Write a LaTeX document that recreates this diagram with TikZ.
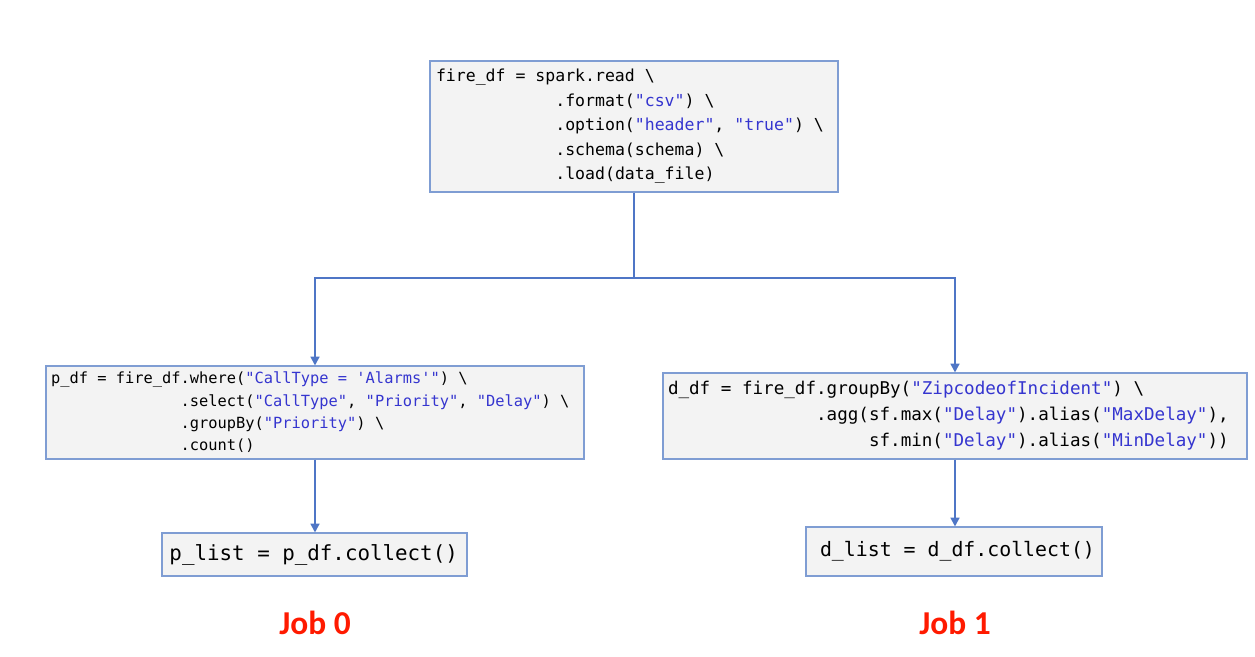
\documentclass[tikz,border=0pt]{standalone}
\usepackage{fontspec}
\setmonofont{DejaVu Sans Mono}
\newfontfamily\jobfont{Carlito}
\usepackage{tikz}
\usetikzlibrary{arrows.meta}
\definecolor{linkblue}{HTML}{4F76C6}
\definecolor{boxline}{HTML}{7F9DD3}
\definecolor{boxfill}{HTML}{F3F3F3}
\definecolor{strblue}{HTML}{3535CF}
\definecolor{jobred}{HTML}{FF1A00}
\newcommand{\str}[1]{\textcolor{strblue}{#1}}
\newcommand{\cpad}[1]{\hspace*{#1\fontcharwd\font`x}}
\newcommand{\bs}{\textbackslash}

\begin{document}
\begin{tikzpicture}[
    codebox/.style={draw=boxline, fill=boxfill, line width=0.6pt, align=left, inner ysep=0pt, font=\ttfamily,
      execute at begin node={\spaceskip=\fontcharwd\font`x\relax\xspaceskip=\spaceskip}},
    link/.style={linkblue, line width=1.1pt},
    arrowlink/.style={link, -{Triangle[length=5pt, width=5pt]}},
    joblabel/.style={text=jobred, font=\jobfont\bfseries\fontsize{19}{22}\selectfont}
  ]
    \useasboundingbox (0, 0) rectangle (25.1, -13.12);
    \node[codebox, inner xsep=0.12cm, minimum width=8.16cm, minimum height=2.62cm, text width=7.92cm,
          font=\ttfamily\fontsize{9.4}{13.9}\selectfont] (read) at (12.68, -2.53)
      {fire\_df = spark.read \bs\\
       \cpad{12}.format(\str{"csv"}) \bs\\
       \cpad{12}.option(\str{"header"}, \str{"true"}) \bs\\
       \cpad{12}.schema(schema) \bs\\
       \cpad{12}.load(data\_file)};
    \node[codebox, inner xsep=0.1cm, minimum width=10.76cm, minimum height=1.86cm, text width=10.56cm,
          font=\ttfamily\fontsize{8.75}{12.7}\selectfont] (pdf) at (6.3, -8.25)
      {p\_df = fire\_df.where(\str{"CallType = 'Alarms'"}) \bs\\
       \cpad{14}.select(\str{"CallType"}, \str{"Priority"}, \str{"Delay"}) \bs\\
       \cpad{14}.groupBy(\str{"Priority"}) \bs\\
       \cpad{14}.count()};
    \node[codebox, inner xsep=0.1cm, minimum width=11.68cm, minimum height=1.72cm, text width=11.48cm,
          font=\ttfamily\fontsize{10}{14.8}\selectfont] (ddf) at (19.1, -8.32)
      {d\_df = fire\_df.groupBy(\str{"ZipcodeofIncident"}) \bs\\
       \cpad{14}.agg(sf.max(\str{"Delay"}).alias(\str{"MaxDelay"}),\\
       \cpad{19}sf.min(\str{"Delay"}).alias(\str{"MinDelay"}))};
    \node[codebox, inner xsep=0.15cm, minimum width=6.1cm, minimum height=0.86cm, text width=5.8cm,
          font=\ttfamily\fontsize{11.85}{14}\selectfont] (plist) at (6.29, -11.09)
      {p\_list = p\_df.collect()};
    \node[codebox, inner xsep=0.12cm, minimum width=5.92cm, minimum height=0.98cm, text width=5.68cm,
          font=\ttfamily\fontsize{11.3}{14}\selectfont] (dlist) at (19.08, -11.03)
      {\hspace*{0.16cm}d\_list = d\_df.collect()};
    \coordinate (split) at (12.68, -5.56);
    \draw[link] (read.south) -- (split);
    \draw[arrowlink] (split) -| (pdf.north);
    \draw[arrowlink] (split) -| (ddf.north);
    \draw[arrowlink] (pdf.south) -- (pdf.south |- plist.north);
    \draw[arrowlink] (ddf.south) -- (ddf.south |- dlist.north);
    \node[joblabel] (job0) at (6.3, -12.46) {Job 0};
    \node[joblabel] (job1) at (19.1, -12.46) {Job 1};
  \end{tikzpicture}
\end{document}
